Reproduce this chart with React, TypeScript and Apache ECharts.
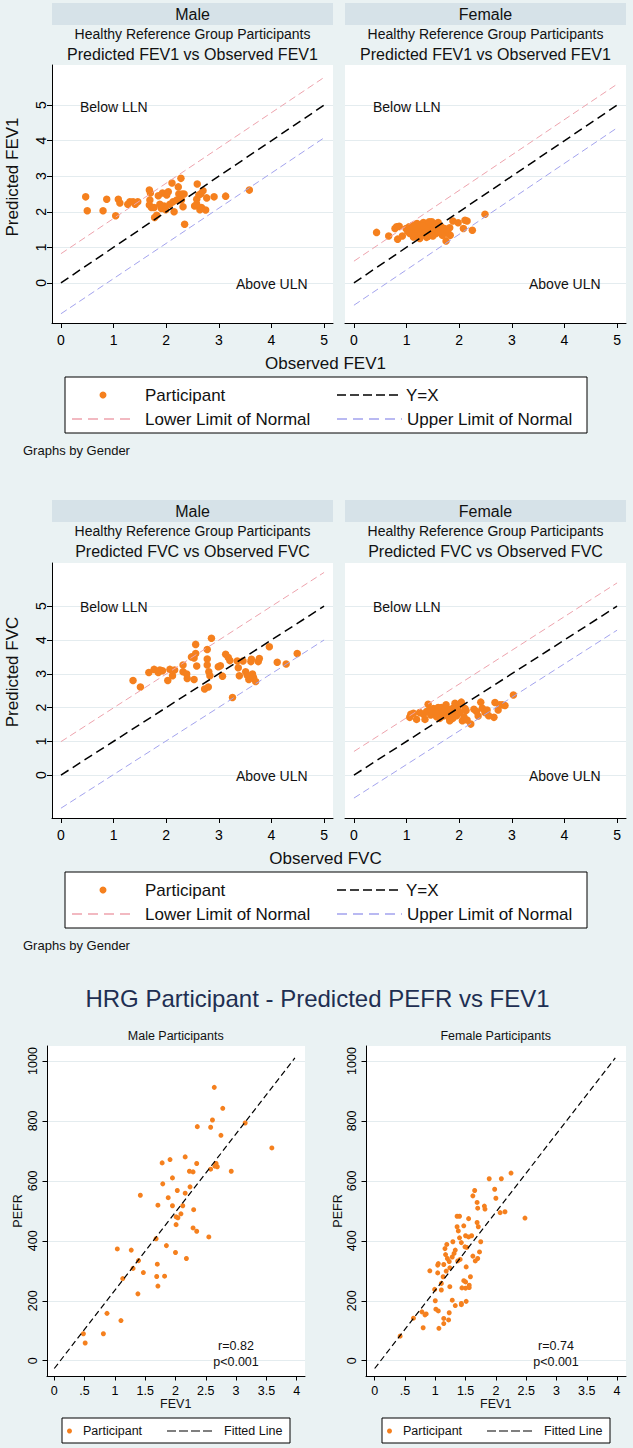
import React, { useEffect, useRef } from "react";
import * as echarts from "echarts";

type Pt = [number, number];

const FONT = '"Liberation Sans", Arial, Helvetica, sans-serif';
const ORANGE = "#f5801e";
const LLN_COLOR = "#eea3ad";
const ULN_COLOR = "#a3a3ee";
const BG = "#eaf2f3";
const HEADER = "#d6e2e8";
const GRIDLINE = "#e4ecef";
const NAVY = "#1e2f52";

// tick labels
const unitTicks = [0, 1, 2, 3, 4, 5];
const pefrXTicks = [0, 0.5, 1, 1.5, 2, 2.5, 3, 3.5, 4];
const pefrYTicks = [0, 200, 400, 600, 800, 1000];

// panel titles
const genders = ["Male", "Female"];
const subTitle = "Healthy Reference Group Participants";

// FEV1: [observed, predicted]
const fev1Male: Pt[] = [
  [0.47, 2.42], [0.5, 2.03], [0.8, 2.03], [0.87, 2.35], [1.04, 1.89], [1.09, 2.35], [1.12, 2.25],
  [1.27, 2.21], [1.31, 2.28], [1.37, 2.28], [1.41, 2.21], [1.46, 2.28], [1.68, 2.61], [1.7, 2.53],
  [1.69, 2.33], [1.68, 2.19], [1.72, 2.12], [1.77, 2.12], [1.78, 1.84], [1.82, 1.9], [1.85, 2.45],
  [1.88, 2.21], [1.93, 2.53], [1.91, 2.09], [1.96, 2.16], [1.99, 2.06], [2.01, 2.47], [2.04, 2.56],
  [2.07, 2.21], [2.11, 2.81], [2.13, 2.28], [2.15, 2.0], [2.2, 2.33], [2.23, 2.7], [2.24, 2.5],
  [2.28, 2.94], [2.3, 2.5], [2.29, 2.33], [2.34, 2.5], [2.32, 2.14], [2.35, 1.65], [2.54, 2.16],
  [2.58, 2.35], [2.59, 2.78], [2.62, 2.47], [2.66, 2.51], [2.64, 2.06], [2.67, 2.12], [2.7, 2.59],
  [2.75, 2.05], [2.77, 2.39], [2.91, 2.42], [3.13, 2.44], [3.58, 2.61], [2.58, 2.21],
];
const fev1Female: Pt[] = [
  [0.43, 1.42], [0.66, 1.32], [0.78, 1.53], [0.81, 1.58], [0.86, 1.59], [0.83, 1.23], [0.92, 1.32],
  [0.99, 1.53], [1.02, 1.45], [1.05, 1.58], [1.08, 1.5], [1.11, 1.42], [1.13, 1.29], [1.15, 1.55],
  [1.17, 1.45], [1.2, 1.67], [1.21, 1.39], [1.24, 1.51], [1.25, 1.25], [1.28, 1.58], [1.3, 1.45],
  [1.32, 1.7], [1.34, 1.39], [1.37, 1.55], [1.38, 1.28], [1.4, 1.48], [1.42, 1.65], [1.44, 1.42],
  [1.46, 1.58], [1.48, 1.72], [1.49, 1.45], [1.51, 1.51], [1.54, 1.65], [1.56, 1.39], [1.58, 1.55],
  [1.6, 1.7], [1.62, 1.43], [1.65, 1.59], [1.68, 1.34], [1.72, 1.53], [1.75, 1.18], [1.79, 1.39],
  [1.82, 1.55], [1.83, 1.34], [1.88, 1.74], [1.98, 1.69], [2.08, 1.53], [2.11, 1.76], [2.15, 1.74],
  [2.25, 1.48], [2.49, 1.93], [1.12, 1.62], [1.22, 1.45], [1.35, 1.5], [1.41, 1.31], [1.47, 1.37],
  [1.57, 1.48], [1.63, 1.53], [1.06, 1.39], [1.16, 1.32], [1.27, 1.34], [1.5, 1.32], [1.66, 1.43],
  [1.73, 1.41], [1.77, 1.5], [1.43, 1.72], [1.3, 1.6], [1.19, 1.58],
];

// FVC: [observed, predicted]
const fvcMale: Pt[] = [
  [1.37, 2.8], [1.51, 2.61], [1.67, 3.04], [1.77, 3.13], [1.85, 3.04], [1.88, 3.11], [1.93, 3.09],
  [2.03, 2.8], [2.07, 3.13], [2.12, 2.94], [2.16, 3.11], [2.32, 3.26], [2.32, 3.06], [2.39, 2.99],
  [2.4, 2.86], [2.48, 3.5], [2.53, 3.47], [2.56, 3.87], [2.56, 3.6], [2.58, 3.23], [2.53, 2.83],
  [2.73, 2.55], [2.8, 2.61], [2.78, 3.72], [2.78, 3.44], [2.78, 3.26], [2.81, 3.06], [2.83, 2.94],
  [2.86, 4.05], [2.99, 3.21], [3.03, 3.24], [3.07, 2.93], [3.13, 3.58], [3.18, 3.48], [3.21, 3.39],
  [3.26, 2.3], [3.35, 3.38], [3.37, 3.18], [3.39, 2.94], [3.46, 3.38], [3.51, 3.06], [3.54, 2.96],
  [3.57, 2.83], [3.61, 3.36], [3.62, 3.43], [3.64, 2.99], [3.66, 2.89], [3.7, 2.77], [3.75, 3.36],
  [3.77, 3.45], [3.96, 3.8], [4.11, 3.34], [4.28, 3.29], [4.49, 3.6],
];
const fvcFemale: Pt[] = [
  [1.08, 1.8], [1.06, 1.71], [1.19, 1.65], [1.25, 1.85], [1.32, 1.8], [1.35, 1.65], [1.41, 2.1],
  [1.43, 1.93], [1.46, 1.78], [1.51, 1.97], [1.54, 1.86], [1.57, 1.73], [1.6, 2.0], [1.62, 1.91],
  [1.65, 1.83], [1.66, 2.0], [1.7, 1.75], [1.73, 1.95], [1.75, 2.08], [1.77, 1.86], [1.79, 1.73],
  [1.82, 1.61], [1.84, 1.95], [1.87, 1.85], [1.9, 2.0], [1.92, 2.13], [1.95, 1.76], [1.97, 1.93],
  [2.0, 2.08], [2.01, 1.86], [2.04, 2.16], [2.06, 1.61], [2.09, 1.73], [2.11, 1.97], [2.13, 1.91],
  [2.15, 1.63], [2.22, 1.51], [2.28, 1.95], [2.33, 1.88], [2.36, 1.75], [2.41, 2.16], [2.44, 1.98],
  [2.49, 1.85], [2.53, 1.93], [2.56, 1.76], [2.66, 1.71], [2.68, 2.15], [2.74, 1.93], [2.77, 2.08],
  [2.82, 2.08], [2.87, 2.06], [3.03, 2.37], [1.13, 1.83], [1.38, 1.88], [1.47, 1.91], [1.56, 1.83],
  [1.63, 1.68], [1.85, 1.75], [1.88, 1.68], [1.71, 1.88],
];

// reference lines [x, y] end points
const identityLine: Pt[] = [[0, 0], [5, 5]];
const fev1MaleLLN: Pt[] = [[0, 0.82], [5, 5.78]];
const fev1MaleULN: Pt[] = [[0, -0.87], [5, 4.08]];
const fev1FemaleLLN: Pt[] = [[0, 0.61], [5, 5.59]];
const fev1FemaleULN: Pt[] = [[0, -0.63], [5, 4.36]];
const fvcMaleLLN: Pt[] = [[0, 0.99], [5, 6.0]];
const fvcMaleULN: Pt[] = [[0, -0.98], [5, 4.0]];
const fvcFemaleLLN: Pt[] = [[0, 0.7], [5, 5.69]];
const fvcFemaleULN: Pt[] = [[0, -0.68], [5, 4.29]];

// PEFR: [FEV1, PEFR]
const pefrMale: Pt[] = [
  [2.64, 912], [2.78, 842], [2.61, 803], [2.36, 781], [2.58, 779], [3.15, 793], [2.75, 752],
  [3.59, 710], [2.16, 680], [1.91, 671], [1.78, 660], [2.35, 658], [2.67, 658], [2.69, 647],
  [2.65, 649], [2.58, 639], [2.23, 632], [2.29, 630], [2.92, 632], [1.95, 610], [1.79, 590],
  [2.03, 568], [2.16, 559], [2.24, 580], [1.42, 552], [1.88, 544], [1.71, 519], [1.95, 517],
  [2.12, 517], [2.3, 504], [2.09, 490], [2.01, 480], [2.04, 477], [2.01, 454], [2.29, 443],
  [2.35, 432], [2.55, 413], [1.68, 407], [1.85, 384], [1.04, 373], [1.27, 369], [2.0, 361],
  [2.18, 341], [1.39, 334], [1.3, 308], [1.7, 322], [1.47, 294], [1.69, 281], [1.82, 282],
  [1.13, 274], [1.71, 249], [1.38, 223], [0.87, 158], [1.1, 134], [0.48, 90], [0.81, 90], [0.51, 59],
];
const pefrFemale: Pt[] = [
  [2.25, 626], [1.89, 607], [2.09, 607], [1.98, 572], [1.65, 568], [2.0, 542], [1.62, 550],
  [1.69, 528], [1.81, 516], [1.82, 506], [1.7, 509], [2.15, 497], [2.07, 494], [2.48, 476],
  [1.36, 482], [1.4, 482], [1.55, 474], [1.69, 461], [1.36, 447], [1.47, 450], [1.71, 447],
  [1.38, 433], [1.5, 417], [1.6, 417], [1.4, 410], [1.55, 413], [1.29, 397], [1.75, 397],
  [1.43, 394], [1.19, 388], [1.49, 380], [1.52, 378], [1.16, 374], [1.33, 369], [1.73, 363],
  [1.17, 354], [1.31, 358], [1.28, 346], [1.2, 341], [1.62, 349], [1.7, 341], [1.66, 333],
  [1.23, 331], [1.37, 333], [1.41, 338], [1.05, 324], [1.04, 319], [1.14, 321], [1.24, 310],
  [0.91, 300], [1.18, 299], [1.04, 293], [1.51, 313], [1.13, 280], [1.58, 280], [1.1, 258],
  [1.24, 247], [1.47, 267], [1.5, 263], [1.56, 252], [1.56, 244], [1.44, 243], [1.5, 242],
  [0.99, 238], [1.1, 236], [1.0, 200], [1.28, 202], [1.51, 198], [1.43, 191], [1.43, 187],
  [1.33, 184], [1.01, 172], [1.05, 166], [0.78, 163], [0.83, 153], [0.85, 156], [1.23, 160],
  [1.14, 141], [1.22, 136], [1.14, 124], [0.64, 142], [0.8, 110], [1.06, 108], [0.42, 82],
];
const pefrFitted: Pt[] = [[0, -26], [3.97, 1010]];
const pefrStats = [["r=0.82", "p<0.001"], ["r=0.74", "p<0.001"]];

function buildOption() {
  const grids = [
    { left: 52, top: 65, width: 281, height: 258 },
    { left: 345, top: 65, width: 281, height: 258 },
    { left: 52, top: 563, width: 281, height: 255 },
    { left: 345, top: 563, width: 281, height: 255 },
    { left: 47, top: 1046, width: 258, height: 330 },
    { left: 366, top: 1046, width: 260, height: 330 },
  ].map((g) => ({ ...g, show: true, backgroundColor: "#ffffff", borderWidth: 0, containLabel: false }));

  const pefrFmt = (v: number) => (v > 0 && v < 1 ? String(v).replace(/^0/, "") : String(v));
  const plainFmt = (v: number) => String(v);

  const xAxis = (gridIndex: number, min: number, max: number, ticks: number[], size: number, margin: number, tickLen: number, fmt: (v: number) => string) => ({
    type: "value", gridIndex, min, max,
    axisLine: { show: true, onZero: false, lineStyle: { color: "#000", width: 1 } },
    axisTick: { show: true, length: tickLen, customValues: ticks, lineStyle: { color: "#000", width: 1 } },
    axisLabel: { show: true, customValues: ticks, color: "#000", fontSize: size, fontFamily: FONT, margin, formatter: fmt },
    splitLine: { show: false },
  });
  const yAxis = (gridIndex: number, min: number, max: number, ticks: number[], show: boolean, size: number, margin: number, tickLen: number) => ({
    type: "value", gridIndex, min, max,
    axisLine: { show, onZero: false, lineStyle: { color: "#000", width: 1 } },
    axisTick: { show, length: tickLen, customValues: ticks, lineStyle: { color: "#000", width: 1 } },
    axisLabel: { show, customValues: ticks, rotate: 90, color: "#000", fontSize: size, fontFamily: FONT, margin, formatter: plainFmt },
    splitLine: { show: true, lineStyle: { color: GRIDLINE, width: 1 } },
  });

  const xAxes = [
    xAxis(0, -0.17, 5.17, unitTicks, 14, 10, 5, plainFmt),
    xAxis(1, -0.17, 5.17, unitTicks, 14, 10, 5, plainFmt),
    xAxis(2, -0.17, 5.17, unitTicks, 14, 10, 5, plainFmt),
    xAxis(3, -0.17, 5.17, unitTicks, 14, 10, 5, plainFmt),
    xAxis(4, -0.12, 4.137, pefrXTicks, 12.5, 8, 4.5, pefrFmt),
    xAxis(5, -0.143, 4.147, pefrXTicks, 12.5, 8, 4.5, pefrFmt),
  ];
  const yAxes = [
    yAxis(0, -1.13, 6.13, unitTicks, true, 14, 4, 5),
    yAxis(1, -1.13, 6.13, unitTicks, false, 14, 4, 5),
    yAxis(2, -1.27, 6.28, unitTicks, true, 14, 4, 5),
    yAxis(3, -1.27, 6.28, unitTicks, false, 14, 4, 5),
    yAxis(4, -51, 1050, pefrYTicks, true, 12.5, 8, 4.5),
    yAxis(5, -51, 1050, pefrYTicks, true, 12.5, 8, 4.5),
  ];

  const scatter = (i: number, data: Pt[], size: number) => ({
    type: "scatter", xAxisIndex: i, yAxisIndex: i, data, symbol: "circle", symbolSize: size,
    itemStyle: { color: ORANGE, opacity: 1, borderWidth: 0 }, silent: true, z: 2,
  });
  const dline = (i: number, data: Pt[], color: string, width: number, dash: number[]) => ({
    type: "line", xAxisIndex: i, yAxisIndex: i, data, symbol: "none", silent: true, z: 3,
    lineStyle: { color, width, type: dash }, clip: false,
  });

  const series: any[] = [];
  const panels: [Pt[], Pt[], Pt[]][] = [
    [fev1Male, fev1MaleLLN, fev1MaleULN],
    [fev1Female, fev1FemaleLLN, fev1FemaleULN],
    [fvcMale, fvcMaleLLN, fvcMaleULN],
    [fvcFemale, fvcFemaleLLN, fvcFemaleULN],
  ];
  panels.forEach(([pts, lln, uln], i) => {
    series.push(scatter(i, pts, 7.5));
    series.push(dline(i, identityLine, "#000", 1.5, [9, 5]));
    series.push(dline(i, lln, LLN_COLOR, 1, [7, 4]));
    series.push(dline(i, uln, ULN_COLOR, 1, [7, 4]));
  });
  series.push(scatter(4, pefrMale, 5));
  series.push(dline(4, pefrFitted, "#000", 1.2, [6, 3.5]));
  series.push(scatter(5, pefrFemale, 5));
  series.push(dline(5, pefrFitted, "#000", 1.2, [6, 3.5]));

  const txt = (text: string, x: number, y: number, size: number, o: any = {}) => ({
    type: "text", x, y, rotation: o.rot || 0, silent: true, z: 10,
    style: { text, font: `${size}px ${FONT}`, fill: o.color || "#111", align: o.align || "center", verticalAlign: "middle" },
  });
  const rect = (x: number, y: number, w: number, h: number, fill: string, stroke?: string) => ({
    type: "rect", silent: true, z: 5, shape: { x, y, width: w, height: h },
    style: { fill, stroke: stroke || null, lineWidth: stroke ? 1 : 0 },
  });
  const gline = (x1: number, x2: number, y: number, color: string, width: number, dash: number[]) => ({
    type: "line", silent: true, z: 10, shape: { x1, y1: y, x2, y2: y },
    style: { stroke: color, lineWidth: width, lineDash: dash },
  });
  const dot = (cx: number, cy: number, r: number) => ({
    type: "circle", silent: true, z: 10, shape: { cx, cy, r }, style: { fill: ORANGE },
  });

  const g: any[] = [];
  const centers = [192.5, 485.5];
  const panelLeft = [52, 345];

  const section = (top: number, measure: string, zeroY: number, fiveY: number, yTitleY: number, axisBottom: number) => {
    genders.forEach((gen, k) => {
      g.push(rect(panelLeft[k], top, 281, 22, HEADER));
      g.push(txt(gen, centers[k], top + 11, 16));
      g.push(txt(subTitle, centers[k], top + 30.5, 14));
      g.push(txt(`Predicted ${measure} vs Observed ${measure}`, centers[k], top + 51, 16));
      const tl = k === 0 ? 80 : 373;
      const tr = k === 0 ? 236 : 529;
      g.push(txt("Below LLN", tl, fiveY + 1, 14, { align: "left" }));
      g.push(txt("Above ULN", tr, zeroY + 1, 14, { align: "left" }));
    });
    g.push(txt(`Predicted ${measure}`, 12, yTitleY, 17, { rot: Math.PI / 2 }));
    g.push(txt(`Observed ${measure}`, 325.5, axisBottom + 40, 17));
    const bt = axisBottom + 54;
    g.push(rect(65, bt, 522, 56, "#ffffff", "#000"));
    const r1 = bt + 18;
    const r2 = bt + 42;
    g.push(dot(103, r1, 3.5));
    g.push(txt("Participant", 145, r1, 17, { align: "left" }));
    g.push(gline(337, 402, r1, "#000", 1.5, [9, 4]));
    g.push(txt("Y=X", 406, r1, 17, { align: "left" }));
    g.push(gline(72, 134, r2, LLN_COLOR, 1.3, [10, 6]));
    g.push(txt("Lower Limit of Normal", 145, r2, 17, { align: "left" }));
    g.push(gline(337, 402, r2, ULN_COLOR, 1.3, [10, 6]));
    g.push(txt("Upper Limit of Normal", 407, r2, 17, { align: "left" }));
    g.push(txt("Graphs by Gender", 23, bt + 73, 13, { align: "left" }));
  };
  section(3, "FEV1", 283, 106, 177, 323);
  section(500, "FVC", 775, 606, 672, 818);

  // PEFR section
  g.push(txt("HRG Participant - Predicted PEFR vs FEV1", 317.5, 998, 24, { color: NAVY }));
  const pc = [175.7, 495.7];
  const pTitles = ["Male Participants", "Female Participants"];
  const statX = [236, 556];
  const yTitleX = [18, 338];
  const legL = [62, 382];
  pc.forEach((cx, k) => {
    g.push(txt(pTitles[k], cx, 1036, 12.5));
    g.push(txt("FEV1", cx, 1404, 12.5));
    g.push(txt("PEFR", yTitleX[k], 1211, 12.5, { rot: Math.PI / 2 }));
    g.push(txt(pefrStats[k][0], statX[k], 1346, 12.5));
    g.push(txt(pefrStats[k][1], statX[k], 1362, 12.5));
    const l = legL[k];
    g.push(rect(l, 1418, 228, 25, "#ffffff", "#000"));
    g.push(dot(l + 7.5, 1431, 2.5));
    g.push(txt("Participant", l + 21, 1431, 12.5, { align: "left" }));
    g.push(gline(l + 105, l + 152, 1431, "#000", 1.2, [9, 3]));
    g.push(txt("Fitted Line", l + 162, 1431, 12.5, { align: "left" }));
  });

  return {
    animation: false,
    backgroundColor: BG,
    textStyle: { fontFamily: FONT },
    grid: grids,
    xAxis: xAxes,
    yAxis: yAxes,
    series,
    graphic: { elements: g },
  };
}

export default function App() {
  const ref = useRef<HTMLDivElement>(null);
  useEffect(() => {
    if (!ref.current) return;
    const chart = echarts.init(ref.current, undefined, { renderer: "svg", width: 633, height: 1448 });
    chart.setOption(buildOption() as any);
    return () => chart.dispose();
  }, []);
  return <div ref={ref} style={{ position: "absolute", left: 0, top: 0, width: 633, height: 1448 }} />;
}
